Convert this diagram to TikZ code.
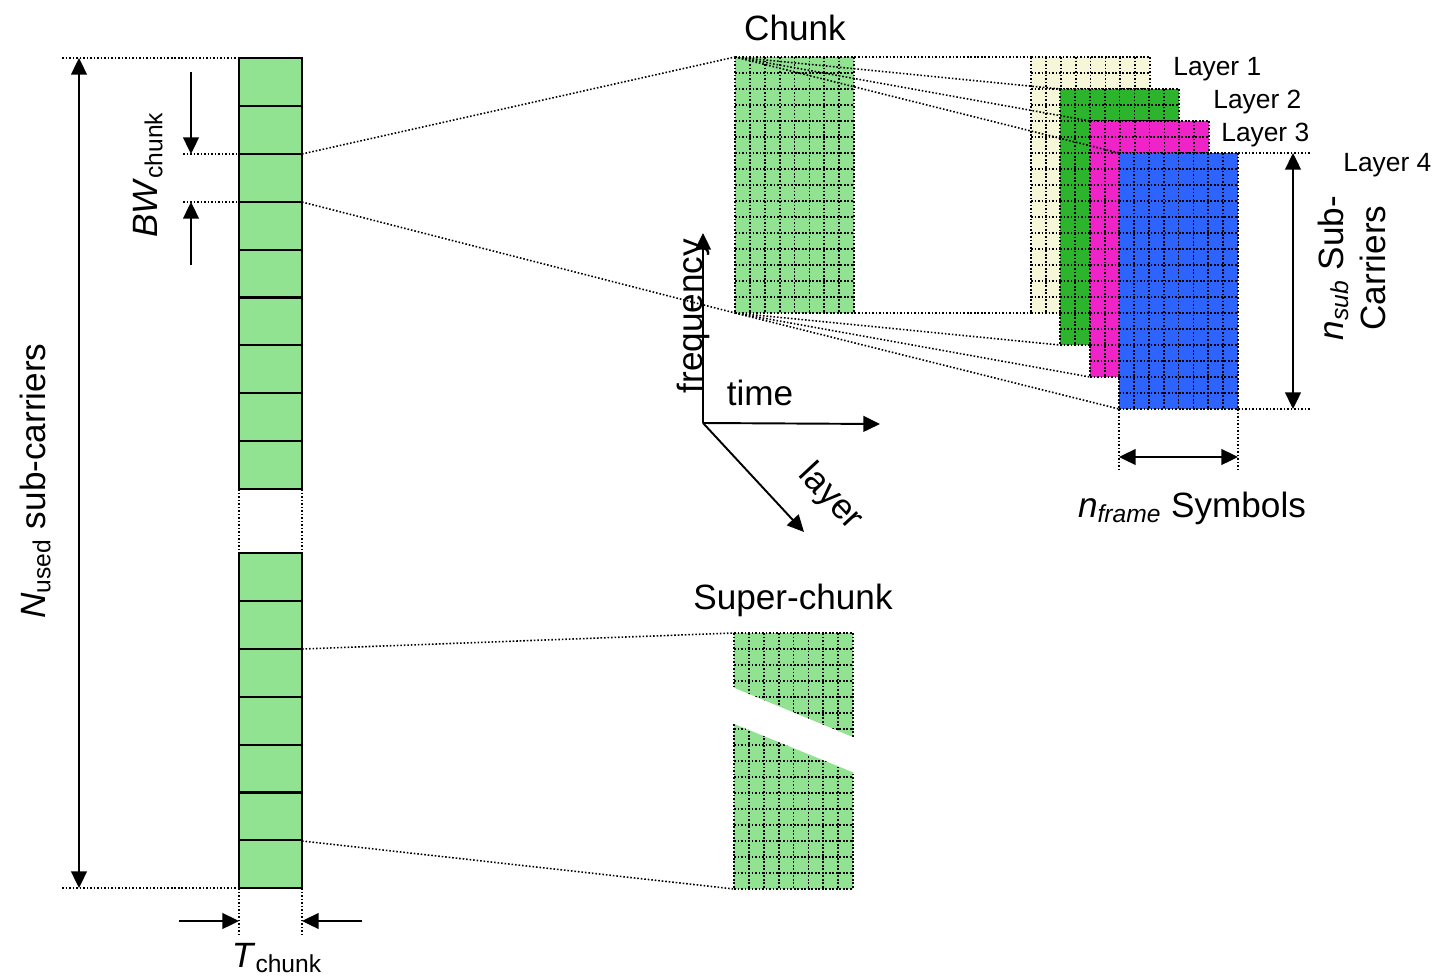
\documentclass[tikz,border=0pt]{standalone}
\usepackage{fontspec}
\setmainfont{Liberation Sans}
\usetikzlibrary{arrows.meta}

\definecolor{chunkgreen}{RGB}{146,227,145}
\definecolor{layerA}{RGB}{246,246,216}
\definecolor{layerB}{RGB}{44,180,44}
\definecolor{layerC}{RGB}{240,35,200}
\definecolor{layerD}{RGB}{45,100,255}

\tikzset{
  >={Triangle[length=9.5pt,width=9pt]},
  dots/.style={line width=0.9pt,dash pattern=on 0.9pt off 1.1pt},
  griddots/.style={line width=1pt,dash pattern=on 1pt off 1pt},
  cellbox/.style={draw=black,line width=1.2pt,fill=chunkgreen},
  dimline/.style={line width=1.1pt},
  biglabel/.style={inner sep=0pt,font=\fontsize{20}{24}\selectfont},
  smalllabel/.style={inner sep=0pt,anchor=base west,font=\fontsize{15}{18}\selectfont}
}

% 8 symbols x 16 sub-carriers, top left corner at (#2,#3)
\newcommand{\rbgrid}[4]{%
  \fill[#4] (#2,#3) rectangle ++(119,256);
  \foreach \i in {0,...,8} \draw[griddots] ({#2+\i*14.875},#3) -- ++(0,256);
  \foreach \j in {0,...,16} \draw[griddots] (#2,{#3+\j*16}) -- ++(119,0);
  \coordinate (#1-nw) at (#2,#3);
  \coordinate (#1-ne) at ({#2+119},#3);
  \coordinate (#1-sw) at (#2,{#3+256});
  \coordinate (#1-se) at ({#2+119},{#3+256});
}

\begin{document}
\begin{tikzpicture}[x=0.02cm,y=-0.02cm]
  \useasboundingbox (0,0) rectangle (1434,977);

  % the used band, chunk by chunk
  \foreach \k in {0,...,8} \draw[cellbox] (239,{58+\k*47.9}) rectangle ++(63,47.9);
  \foreach \k in {0,...,6} \draw[cellbox] (239,{553+\k*47.9}) rectangle ++(63,47.9);
  \draw[dots] (239,489) -- (239,553);
  \draw[dots] (302,489) -- (302,553);

  \coordinate (col-top) at (239,58);
  \coordinate (col-bot) at (239,888);
  \coordinate (bw-a) at (302,154);
  \coordinate (bw-b) at (302,202);
  \coordinate (sc-a) at (302,649);
  \coordinate (sc-b) at (302,841);

  % N_used
  \coordinate (nu-top) at (62,58);
  \coordinate (nu-bot) at (62,888);
  \coordinate (nu-a) at (79,58);
  \coordinate (nu-b) at (79,888);
  \draw[dots] (nu-top) -- (col-top);
  \draw[dots] (nu-bot) -- (col-bot);
  \draw[dimline,<->] (nu-a) -- (nu-b);
  \node[biglabel,rotate=90,anchor=base] (nused) at (45,481) {\textit{N}\textsubscript{used} sub-carriers};

  % BW_chunk
  \coordinate (bw-al) at (239,154);
  \coordinate (bw-bl) at (239,202);
  \coordinate (bw-ad) at (183,154);
  \coordinate (bw-bd) at (183,202);
  \coordinate (bw-as) at (191,72);
  \coordinate (bw-ae) at (191,154);
  \coordinate (bw-bs) at (191,265);
  \coordinate (bw-be) at (191,202);
  \draw[dots] (bw-ad) -- (bw-al);
  \draw[dots] (bw-bd) -- (bw-bl);
  \draw[dimline,->] (bw-as) -- (bw-ae);
  \draw[dimline,->] (bw-bs) -- (bw-be);
  \node[biglabel,rotate=90,anchor=base] (bw) at (157,175) {\textit{BW}\textsubscript{chunk}};

  % T_chunk
  \coordinate (t-l) at (239,934);
  \coordinate (t-r) at (302,934);
  \coordinate (col-botr) at (302,888);
  \coordinate (t-ls) at (179,921);
  \coordinate (t-le) at (239,921);
  \coordinate (t-rs) at (362,921);
  \coordinate (t-re) at (302,921);
  \draw[dots] (col-bot) -- (t-l);
  \draw[dots] (col-botr) -- (t-r);
  \draw[dimline,->] (t-ls) -- (t-le);
  \draw[dimline,->] (t-rs) -- (t-re);
  \node[biglabel,anchor=base] (tchunk) at (277,967) {\textit{T}\textsubscript{chunk}};

  % one chunk
  \rbgrid{chunk}{735}{57}{chunkgreen}
  \node[biglabel,anchor=base] (chunklbl) at (795,40) {Chunk};
  \draw[dots] (bw-a) -- (chunk-nw);
  \draw[dots] (bw-b) -- (chunk-sw);

  % the layers
  \rbgrid{lay1}{1031}{57}{layerA}
  \rbgrid{lay2}{1060}{89}{layerB}
  \rbgrid{lay3}{1090}{121}{layerC}
  \rbgrid{lay4}{1119}{153}{layerD}
  \foreach \l in {1,...,4} {
    \draw[dots] (chunk-nw) -- (lay\l-nw);
    \draw[dots] (chunk-sw) -- (lay\l-sw);
  }
  \node[smalllabel] (l1) at (1173,75) {Layer 1};
  \node[smalllabel] (l2) at (1213,108) {Layer 2};
  \node[smalllabel] (l3) at (1221,141) {Layer 3};
  \node[smalllabel] (l4) at (1343,171) {Layer 4};

  % n_sub
  \coordinate (ns-a) at (1310,153);
  \coordinate (ns-b) at (1310,409);
  \coordinate (ns-as) at (1293,153);
  \coordinate (ns-bs) at (1293,409);
  \draw[dots] (lay4-ne) -- (ns-a);
  \draw[dots] (lay4-se) -- (ns-b);
  \draw[dimline,<->] (ns-as) -- (ns-bs);
  \node[biglabel,rotate=90,align=center] (nsub) at (1352,268) {\textit{n}\textsubscript{\textit{sub}} Sub-\\Carriers};

  % n_frame
  \coordinate (nf-a) at (1119,470);
  \coordinate (nf-b) at (1238,470);
  \coordinate (nf-as) at (1119,457);
  \coordinate (nf-bs) at (1238,457);
  \draw[dots] (lay4-sw) -- (nf-a);
  \draw[dots] (lay4-se) -- (nf-b);
  \draw[dimline,<->] (nf-as) -- (nf-bs);
  \node[biglabel,anchor=base] (nframe) at (1192,517) {\textit{n}\textsubscript{\textit{frame}} Symbols};

  % axes
  \coordinate (origin) at (703,423);
  \coordinate (f-end) at (703,233);
  \coordinate (t-end) at (880,424);
  \coordinate (l-end) at (804,532);
  \draw[dimline,->] (origin) -- (f-end);
  \draw[dimline,->] (origin) -- (t-end);
  \draw[dimline,->] (origin) -- (l-end);
  \node[biglabel,rotate=90,anchor=base] (freq) at (702,316) {frequency};
  \node[biglabel,anchor=base] (time) at (760,405) {time};
  \node[biglabel,rotate=-47] (layer) at (830,497) {layer};

  % super-chunk with a cut
  \rbgrid{super}{734}{633}{chunkgreen}
  \fill[white] (732,687) -- (855,738) -- (855,773) -- (732,723) -- cycle;
  \node[biglabel,anchor=base] (superlbl) at (793,609) {Super-chunk};
  \draw[dots] (sc-a) -- (super-nw);
  \draw[dots] (sc-b) -- (super-sw);
\end{tikzpicture}
\end{document}
